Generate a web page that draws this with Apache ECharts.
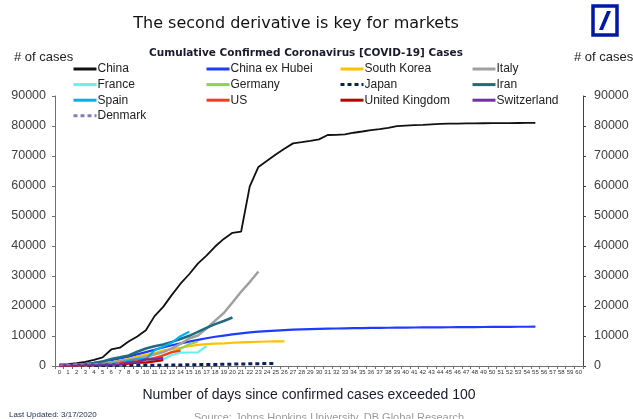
<!DOCTYPE html>
<html>
<head>
<meta charset="utf-8">
<script src="https://cdn.jsdelivr.net/npm/echarts@6/dist/echarts.min.js"></script>
<style>
html,body{margin:0;padding:0;background:#fff;}
#chart{width:633px;height:419px;}
</style>
</head>
<body>
<div id="chart"></div>
<script>
// ---- Data ----
var days = [];
for (var d = 0; d <= 60; d++) days.push(String(d));
var yTicks = [0, 10000, 20000, 30000, 40000, 50000, 60000, 70000, 80000, 90000];

var china = [548, 643, 920, 1406, 2075, 2877, 5509, 6087, 8141, 9802, 11891, 16630, 19716, 23707, 27440, 30587, 34110, 36814, 39829, 42354, 44386, 44759, 59895, 66358, 68413, 70513, 72434, 74211, 74619, 75077, 75550, 77001, 77022, 77241, 77754, 78166, 78600, 78928, 79356, 79932, 80136, 80261, 80386, 80537, 80690, 80770, 80823, 80860, 80887, 80921, 80932, 80945, 80977, 81003, 81033, 81058];
var chinaExHubei = [100, 200, 370, 650, 1020, 1450, 1950, 2530, 3130, 3880, 4640, 5400, 6150, 6900, 7550, 8150, 8700, 9250, 9750, 10150, 10550, 10900, 11200, 11450, 11650, 11820, 11970, 12100, 12200, 12290, 12370, 12440, 12500, 12550, 12600, 12640, 12680, 12720, 12750, 12780, 12810, 12840, 12860, 12880, 12900, 12920, 12940, 12960, 12980, 13000, 13020, 13040, 13060, 13080, 13090, 13100];
var southKorea = [104, 204, 433, 602, 833, 977, 1261, 1766, 2337, 3150, 3736, 4335, 5186, 5621, 6088, 6593, 7041, 7314, 7478, 7513, 7755, 7869, 7979, 8086, 8162, 8236, 8200];
var italy = [155, 229, 322, 453, 655, 888, 1128, 1694, 2036, 2502, 3089, 3858, 4636, 5883, 7375, 9172, 10149, 12462, 15113, 17660, 21157, 24747, 27980, 31506];
var france = [100, 130, 191, 204, 285, 377, 653, 949, 1126, 1209, 1784, 2281, 2281, 3661, 4469, 4499, 4523, 6650];
var germany = [130, 159, 196, 262, 482, 670, 799, 1040, 1176, 1457, 1908, 2078, 3675, 4585, 5795, 7272, 8100];
var japan = [105, 132, 144, 144, 156, 164, 186, 210, 230, 239, 254, 268, 284, 317, 349, 408, 455, 488, 514, 568, 620, 675, 716, 780, 814, 829];
var iran = [139, 245, 388, 593, 978, 1501, 2336, 2922, 3513, 4747, 5823, 6566, 7161, 8042, 9000, 10075, 11364, 12729, 13938, 14991, 16169];
var spain = [120, 165, 222, 259, 400, 500, 673, 1073, 1695, 2277, 2277, 5232, 6391, 7798, 9942, 11400];
var us = [118, 149, 217, 262, 402, 518, 583, 959, 1281, 1663, 2179, 2726, 3499, 4632, 5100];
var uk = [116, 164, 207, 273, 321, 383, 460, 460, 802, 1144, 1145, 1551, 1960];
var switzerland = [114, 214, 268, 337, 374, 491, 652, 652, 1139, 1359, 2200, 2200, 2700];
var denmark = [264, 444, 617, 804, 836, 875, 933, 1024];

var FONT = "'Liberation Sans', Arial, sans-serif";
var WIDE = "'DejaVu Sans', Verdana, sans-serif";

function line(name, data, color, width, type) {
  return {
    name: name, type: 'line', data: data, symbol: 'none', smooth: false,
    lineStyle: { color: color, width: width, type: type || 'solid' },
    itemStyle: { color: color },
    emphasis: { disabled: true }, silent: true, animation: false
  };
}

var series = [
  line('China', china, '#111111', 1.8),
  line('China ex Hubei', chinaExHubei, '#1F3BFF', 2.2),
  line('South Korea', southKorea, '#FFC000', 2.2),
  line('Italy', italy, '#A0A0A0', 2.5),
  line('France', france, '#66F0F0', 2.2),
  line('Germany', germany, '#92D050', 2.2),
  line('Japan', japan, '#0A1F5C', 3, [4, 3]),
  line('Iran', iran, '#1F6B80', 2.5),
  line('Spain', spain, '#00B0F0', 2.2),
  line('US', us, '#FF3A1A', 2.2),
  line('United Kingdom', uk, '#C00000', 2.2),
  line('Switzerland', switzerland, '#7030A0', 2.2),
  line('Denmark', denmark, '#7F7FBF', 1.5, [4, 3])
];

function legendCol(left, names) {
  return {
    orient: 'vertical', left: left, top: 63, itemWidth: 23, itemHeight: 10, itemGap: 3.6,
    selectedMode: false, data: names, padding: 0,
    itemStyle: { color: 'rgba(0,0,0,0)', borderColor: 'rgba(0,0,0,0)', borderWidth: 0, opacity: 0 },
    lineStyle: { width: 3 },
    textStyle: { fontFamily: FONT, fontSize: 12, color: '#222', padding: [0, 0, 0, -4] }
  };
}

var chart = echarts.init(document.getElementById('chart'));
chart.setOption({
  animation: false,
  backgroundColor: '#ffffff',
  title: [
    { text: 'The second derivative is key for markets', left: 291, top: 11, textAlign: 'center',
      textStyle: { fontFamily: WIDE, fontSize: 16, fontWeight: 'normal', color: '#111' } },
    { text: 'Cumulative Confirmed Coronavirus [COVID-19] Cases', left: 301, top: 43, textAlign: 'center',
      textStyle: { fontFamily: WIDE, fontSize: 10.5, fontWeight: 'bold', color: '#1a1a2e' } },
    { text: '# of cases', left: 9, top: 46,
      textStyle: { fontFamily: FONT, fontSize: 13, fontWeight: 'normal', color: '#222' } },
    { text: '# of cases', left: 569, top: 46,
      textStyle: { fontFamily: FONT, fontSize: 13, fontWeight: 'normal', color: '#222' } },
    { text: 'Number of days since confirmed cases exceeded 100', left: 304, top: 383, textAlign: 'center',
      textStyle: { fontFamily: FONT, fontSize: 14, fontWeight: 'normal', color: '#1a1a2e' } },
    { text: 'Last Updated: 3/17/2020', left: 4, top: 406,
      textStyle: { fontFamily: FONT, fontSize: 8, fontWeight: 'normal', color: '#1a2a4a' } },
    { text: 'Source: Johns Hopkins University, DB Global Research', left: 324, top: 407, textAlign: 'center',
      textStyle: { fontFamily: FONT, fontSize: 11, fontWeight: 'normal', color: '#9a9a9a' } }
  ],
  legend: [
    legendCol(72, ['China', 'France', 'Spain', 'Denmark']),
    legendCol(205, ['China ex Hubei', 'Germany', 'US']),
    legendCol(339, ['South Korea', 'Japan', 'United Kingdom']),
    legendCol(471, ['Italy', 'Iran', 'Switzerland'])
  ],
  grid: { left: 55, right: 50, top: 96, bottom: 53, containLabel: false },
  xAxis: {
    type: 'category', data: days, boundaryGap: true,
    axisLine: { lineStyle: { color: '#707070', width: 1 } },
    axisTick: { show: true, interval: 0, length: 3, lineStyle: { color: '#707070' } },
    axisLabel: { interval: 0, fontSize: 6, margin: 3, color: '#333', fontFamily: FONT, hideOverlap: false },
    splitLine: { show: false }
  },
  yAxis: [
    { type: 'value', min: yTicks[0], max: yTicks[yTicks.length - 1], interval: yTicks[1] - yTicks[0], position: 'left',
      axisLine: { show: true, lineStyle: { color: '#707070' } },
      axisTick: { show: true, length: 3, lineStyle: { color: '#707070' } },
      axisLabel: { fontSize: 12.5, color: '#404040', fontFamily: FONT, margin: 9, formatter: function (v) { return String(v); } },
      splitLine: { show: false } },
    { type: 'value', min: yTicks[0], max: yTicks[yTicks.length - 1], interval: yTicks[1] - yTicks[0], position: 'right',
      axisLine: { show: true, lineStyle: { color: '#404040' } },
      axisTick: { show: true, length: 3, lineStyle: { color: '#404040' } },
      axisLabel: { fontSize: 12.5, color: '#404040', fontFamily: FONT, margin: 11, formatter: function (v) { return String(v); } },
      splitLine: { show: false } }
  ],
  graphic: [
    { type: 'rect', shape: { x: 593, y: 6, width: 24, height: 29 },
      style: { fill: '#fff', stroke: '#0018A8', lineWidth: 3.5 } },
    { type: 'polygon', shape: { points: [[607, 11], [611, 11], [603, 30], [599, 30]] },
      style: { fill: '#0018A8' } }
  ],
  series: series
});
</script>
</body>
</html>
